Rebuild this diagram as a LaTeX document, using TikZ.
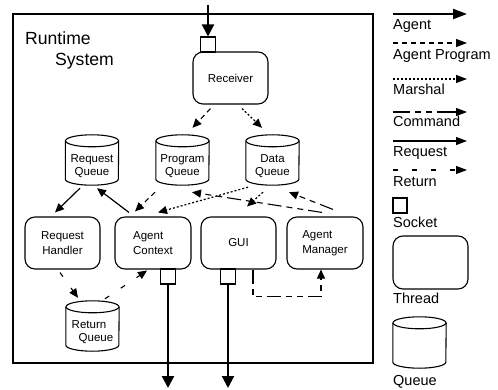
\documentclass[tikz,border=0pt]{standalone}
\usepackage{fontspec}
\setmainfont{Liberation Sans}
\usetikzlibrary{arrows.meta,calc}

% rounded-rectangle threads, square sockets and drum-shaped queues
\tikzset{
  x=1pt, y=-1pt,
  every node/.style={font=\fontsize{11.5}{15}\selectfont},
  thread/.style={draw, line width=1.1pt, rounded corners=10pt,
    minimum width=75pt, minimum height=52pt, align=center, inner sep=0pt},
  threadl/.style={thread, align=left},
  socket/.style={draw, line width=1.1pt, minimum width=15pt,
    minimum height=15pt, inner sep=0pt},
  qbody/.style={minimum width=53pt, minimum height=50pt, inner sep=0pt},
  qtext/.style={align=center, font=\fontsize{11.5}{13}\selectfont, inner sep=0pt},
  qline/.style={line width=1.1pt},
  legtext/.style={anchor=base west, inner sep=0pt, font=\fontsize{14.5}{16}\selectfont},
  tip/.style={-{Triangle[length=9pt,width=8pt]}},
  agentflow/.style={line width=2.2pt, -{Triangle[length=12pt,width=12pt]}},
  progflow/.style={tip, line width=1.1pt, dash pattern=on 5pt off 4pt},
  marshalflow/.style={tip, line width=1.2pt, dash pattern=on 2pt off 2pt},
  commandflow/.style={tip, line width=1.1pt,
    dash pattern=on 14pt off 5pt on 6pt off 5pt on 6pt off 5pt},
  requestflow/.style={tip, line width=1.2pt},
  returnflow/.style={tip, line width=1.1pt, dash pattern=on 5pt off 14pt},
}

\newcommand\queuedraw[1]{%
  \draw[qline] ([yshift=-6pt]#1.north west) -- ([yshift=6pt]#1.south west)
    arc[start angle=180, end angle=360, x radius=26.5pt, y radius=6pt]
    -- ([yshift=-6pt]#1.north east);
  \draw[qline] ([yshift=-6pt]#1.north) ellipse [x radius=26.5pt, y radius=6pt];
}

\begin{document}
\begin{tikzpicture}
\useasboundingbox (0,0) rectangle (498,390);

% runtime system frame
\draw[line width=1.3pt] (13,14) rectangle (373,363);
\node[anchor=base west, inner sep=0pt, font=\fontsize{17.6}{20}\selectfont] (rtitle1) at (25,44.5) {Runtime};
\node[anchor=base west, inner sep=0pt, font=\fontsize{17.6}{20}\selectfont] (rtitle2) at (55,65.5) {System};

% threads
\node[thread] (recv) at (230.5,78) {Receiver};
\node[thread] (rh) at (62.5,243) {Request\\Handler};
\node[threadl, minimum width=76pt] (ac) at (153,243) {Agent\\Context};
\node[thread] (gui) at (238.5,243) {GUI};
\node[threadl, minimum width=76pt] (am) at (325,243) {Agent\\Manager};

% sockets
\node[socket] (rsock) at (208,44.5) {};
\node[socket] (acsock) at (168,276.5) {};
\node[socket] (guisock) at (228,276.5) {};

% queues
\node[qbody] (rq) at (92,160) {};
\node[qbody] (pq) at (182.5,160) {};
\node[qbody] (dq) at (272.5,160) {};
\node[qbody] (retq) at (92.5,326) {};
\queuedraw{rq}
\queuedraw{pq}
\queuedraw{dq}
\queuedraw{retq}
\node[qtext] (rqt) at ([yshift=-6.5pt]rq.center) {Request\\Queue};
\node[qtext] (pqt) at ([yshift=-6.5pt]pq.center) {Program\\Queue};
\node[qtext] (dqt) at ([yshift=-6.5pt]dq.center) {Data\\Queue};
\node[qtext, align=left] (retqt) at ([yshift=-6pt]retq.center) {Return\\\hspace*{7pt}Queue};

% agents in and out
\coordinate (agentin) at (208,5);
\coordinate (agentoutA) at (168,388);
\coordinate (agentoutB) at (228,388);
\draw[agentflow] (agentin) -- (rsock.north);
\draw[agentflow] (acsock.south) -- (agentoutA);
\draw[agentflow] (guisock.south) -- (agentoutB);

% receiver to queues
\draw[progflow] ($(recv.south)+(-20,4)$) -- ($(pq.north)+(10,-7)$);
\draw[marshalflow] ($(recv.south)+(11.5,4)$) -- ($(dq.north)+(-10.5,-7)$);

% requests
\draw[requestflow] ($(rq.south)+(-12,3)$) -- ($(rh.north)+(-7.5,-4)$);
\draw[requestflow] ($(ac.north)+(-24,-4)$) -- ($(rq.south)+(5,3)$);

% programs and data to threads
\draw[progflow] ($(pq.south)+(-27.5,7)$) -- ($(ac.north)+(-18,-5)$);
\draw[marshalflow] ($(dq.south)+(-24.5,2)$) -- ($(ac.north)+(5,-4)$);
\draw[marshalflow] ($(dq.south)+(-9.5,7)$) -- ($(gui.north)+(8.5,-10)$);

% commands
\draw[commandflow] ($(am.north)+(-3,-4)$) -- ($(pq.south)+(9.5,7)$);
\draw[commandflow] ($(am.north)+(8,-7)$) -- ($(dq.south)+(16.5,7)$);
\draw[commandflow] ([xshift=14.5pt]gui.south) -- ++(0,27) -| ([xshift=-4pt]am.south);

% returns
\draw[returnflow] ($(rh.south)+(-2.5,3)$) -- ($(retq.north)+(-14.5,-3)$);
\draw[returnflow] ($(retq.north)+(12.5,-2)$) -- ($(ac.south)+(-6,1)$);

% legend
\foreach \nm/\yy in {lgA/14, lgP/43, lgM/79, lgC/112, lgR/141, lgT/170} {
  \coordinate (\nm1) at (393,\yy);
  \coordinate (\nm2) at (467,\yy);
}
\draw[agentflow, -{Triangle[length=14pt,width=10pt]}] (lgA1) -- (lgA2);
\draw[progflow, -{Triangle[length=11pt,width=8pt]}] (lgP1) -- (lgP2);
\draw[marshalflow, -{Triangle[length=11pt,width=8pt]}] (lgM1) -- (lgM2);
\draw[commandflow, dash pattern=on 17pt off 5pt on 6pt off 5pt on 6pt off 5pt on 40pt,
  -{Triangle[length=11pt,width=8pt]}] (lgC1) -- (lgC2);
\draw[requestflow, -{Triangle[length=11pt,width=8pt]}] (lgR1) -- (lgR2);
\draw[returnflow, -{Triangle[length=11pt,width=8pt]}] (lgT1) -- (lgT2);
\node[legtext] (lgAt) at (393,29.5) {Agent};
\node[legtext] (lgPt) at (393,59.5) {Agent Program};
\node[legtext] (lgMt) at (393,95) {Marshal};
\node[legtext] (lgCt) at (393,127) {Command};
\node[legtext] (lgRt) at (393,156.5) {Request};
\node[legtext] (lgTt) at (393,186.5) {Return};

\node[socket, minimum width=14pt] (lgsock) at (400,205.5) {};
\node[legtext] (lgst) at (393,228) {Socket};
\node[thread, minimum height=53pt] (lgthread) at (430.5,262.5) {};
\node[legtext] (lgtt) at (393,303) {Thread};
\node[qbody, minimum height=51pt] (lgqueue) at (419.5,342.5) {};
\queuedraw{lgqueue}
\node[legtext] (lgqt) at (393,385) {Queue};
\end{tikzpicture}
\end{document}
